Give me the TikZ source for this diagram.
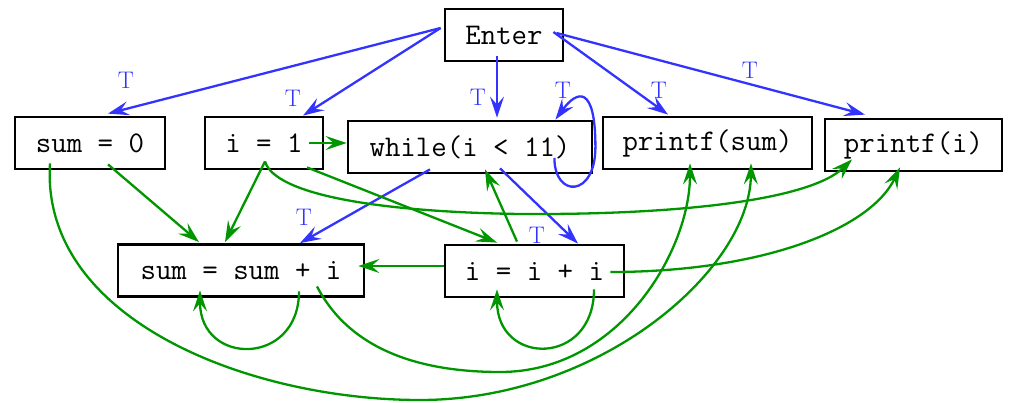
\documentclass[tikz,border=0pt]{standalone}
\usetikzlibrary{arrows.meta,calc}
\definecolor{cfblue}{RGB}{51,51,255}
\definecolor{cfgreen}{RGB}{0,150,0}
\begin{document}
\begin{tikzpicture}[x=1pt,y=-1pt,
  box/.style={draw=black,line width=2.8pt,fill=white,inner sep=0pt,
    font=\ttfamily\fontsize{30}{36}\selectfont,minimum height=52pt},
  lbl/.style={text=cfblue,inner sep=0pt,font=\fontsize{24}{28}\selectfont},
  tip/.style={-{Stealth[length=21pt,width=14pt,inset=8pt]}},
  bedge/.style={tip,draw=cfblue,line width=2.3pt},
  gedge/.style={tip,draw=cfgreen,line width=2.3pt}]
\useasboundingbox (0,0) rectangle (1016,403);

% statements
\node[box,minimum width=118pt] (enter) at (504,35)    {Enter};
\node[box,minimum width=150pt] (s0)    at (90,143)    {sum = 0};
\node[box,minimum width=118pt] (i1)    at (264,143)   {i = 1};
\node[box,minimum width=244pt] (wh)    at (470,147)   {while(i < 11)};
\node[box,minimum width=209pt] (ps)    at (707.5,143) {printf(sum)};
\node[box,minimum width=177pt] (pi)    at (913.5,145) {printf(i)};
\node[box,minimum width=246pt] (ssum)  at (241,270.5) {sum = sum + i};
\node[box,minimum width=179pt] (ii)    at (534.5,271) {i = i + i};

% control dependences
\draw[bedge] ($(enter.west)+(-3,-7)$) -- ($(s0.north)+(18,-2)$);
\draw[bedge] ($(enter.west)+(-3,-7)$) -- ($(i1.north)+(39,0)$);
\draw[bedge] ($(enter.south)+(-7,-6)$) -- ($(wh.north)+(27,-2)$);
\draw[bedge] ($(enter.east)+(-11,-3)$) -- ($(ps.north)+(-39.5,-1)$);
\draw[bedge] ($(enter.east)+(-8,-2)$) -- ($(pi.north)+(-48.5,-3)$);
\draw[bedge] ($(wh.east)+(-39,11)$) .. controls +(0,40) and +(0,51) .. ($(wh.east)+(2,0)$)
  .. controls +(0,-62) and +(22,-30) .. ($(wh.north east)+(-38,0)$);
\draw[bedge] ($(wh.south)+(-40,-5)$) -- ($(ssum.north)+(59,0)$);
\draw[bedge] ($(wh.south)+(30,-6)$) -- ($(ii.north)+(43.5,0)$);

\node[lbl] (t1) at (126,80)  {T};
\node[lbl] (t2) at (293,98)  {T};
\node[lbl] (t3) at (478,97)  {T};
\node[lbl] (t4) at (563,90)  {T};
\node[lbl] (t5) at (659,90)  {T};
\node[lbl] (t6) at (750,70)  {T};
\node[lbl] (t7) at (304,217) {T};
\node[lbl] (t8) at (537,235) {T};

% data dependences
\draw[gedge] ($(i1.east)+(-15,0)$) -- ($(wh.west)+(0,-4)$);
\draw[gedge] ($(s0.south)+(18,-6)$) -- ($(ssum.north)+(-42,-1)$);
\draw[gedge] ($(i1.south)+(1,-9)$) -- ($(ssum.north)+(-16,-1)$);
\draw[gedge] ($(i1.south)+(43,-3)$) -- ($(ii.north)+(-37.5,-1)$);
\draw[gedge] ($(i1.south)+(1,-9)$) .. controls (275,195) and (380,212) .. (520,214)
  .. controls (680,215) and (810,200) .. ($(pi.south)+(-61.5,-13)$);
\draw[gedge] ($(ii.north)+(-17.5,-2)$) -- ($(wh.south)+(15,-5)$);
\draw[gedge] ($(ii.west)+(0,-5)$) -- ($(ssum.east)+(-7,-4.5)$);
\draw[gedge] ($(s0.south)+(-40,-7)$) .. controls (40,320) and (250,400) .. (420,400)
  .. controls (600,400) and (750,270) .. ($(ps.south)+(43.5,-7)$);
\draw[gedge] ($(ssum.south)+(76,-11.5)$) .. controls (350,350) and (420,372) .. (500,372)
  .. controls (620,372) and (690,250) .. ($(ps.south)+(-17.5,-7)$);
\draw[gedge] ($(ssum.south)+(58,-6.5)$) .. controls +(0,75) and +(0,76) .. ($(ssum.south)+(-41,-7.5)$);
\draw[gedge] ($(ii.south)+(59.5,-9)$) .. controls +(0,77) and +(0,77) .. ($(ii.south)+(-37.5,-9)$);
\draw[gedge] ($(ii.east)+(-15,1)$) .. controls (760,272) and (870,230) .. ($(pi.south)+(-13.5,-5)$);
\end{tikzpicture}
\end{document}
